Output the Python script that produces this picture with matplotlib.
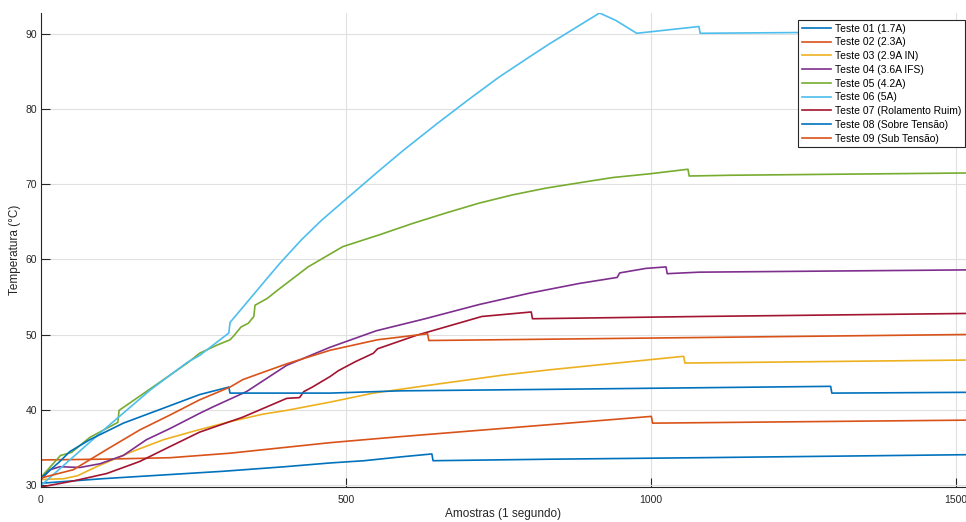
import matplotlib
matplotlib.use('Agg')
import matplotlib.pyplot as plt

plt.rcParams['font.family'] = ['Liberation Sans', 'DejaVu Sans']

# dados (amostra, temperatura)
t01_x = [0, 100, 200, 300, 400, 474, 530, 589, 641, 643, 834, 1080, 1516]
t01_y = [30.2, 30.8, 31.3, 31.8, 32.4, 32.9, 33.2, 33.7, 34.1, 33.2, 33.4, 33.6, 34.0]

t02_x = [0, 100, 212, 310, 474, 531, 589, 834, 1001, 1003, 1516]
t02_y = [33.3, 33.4, 33.6, 34.2, 35.6, 36.0, 36.4, 38.0, 39.1, 38.2, 38.6]

t03_x = [0, 37, 60, 91, 146, 201, 258, 310, 364, 403, 474, 545, 650, 758, 834, 1054, 1056, 1516]
t03_y = [30.7, 30.8, 31.2, 32.4, 34.3, 36.0, 37.3, 38.4, 39.4, 39.9, 41.0, 42.2, 43.4, 44.6, 45.3, 47.1, 46.2, 46.6]

t04_x = [0, 15, 31, 64, 97, 135, 173, 212, 260, 283, 337, 403, 474, 550, 630, 719, 801, 883,
         945, 949, 992, 1025, 1027, 1080, 1516]
t04_y = [30.7, 32.0, 32.4, 32.3, 32.8, 33.9, 36.0, 37.5, 39.5, 40.4, 42.4, 45.9, 48.3, 50.5, 52.1, 54.0, 55.5, 56.8,
         57.6, 58.2, 58.8, 59.0, 58.1, 58.3, 58.6]

t05_x = [0, 32, 50, 80, 126, 128, 162, 201, 240, 260, 289, 310, 317, 328, 340, 349, 351, 371, 388,
         438, 495, 556, 610, 665, 719, 774, 829, 883, 938, 999, 1061, 1063, 1130, 1516]
t05_y = [31.0, 33.9, 34.3, 36.3, 38.3, 39.9, 41.8, 44.0, 46.2, 47.5, 48.6, 49.3, 49.9, 51.0, 51.5, 52.4, 53.9, 54.8, 55.9,
         59.0, 61.7, 63.3, 64.8, 66.2, 67.5, 68.6, 69.5, 70.2, 70.9, 71.4, 72.0, 71.1, 71.2, 71.5]

t06_x = [0, 100, 179, 240, 260, 308, 310, 369, 392, 427, 460, 500, 550, 594, 650, 700, 750, 800, 834,
         870, 900, 916, 943, 977, 1079, 1081, 1244, 1516]
t06_y = [29.9, 37.1, 42.6, 46.3, 47.2, 50.2, 51.6, 57.3, 59.5, 62.6, 65.2, 68.0, 71.5, 74.5, 78.1, 81.2, 84.2,
         86.9, 88.7, 90.5, 92.0, 92.8, 91.8, 90.1, 91.0, 90.1, 90.2, 90.4]

t07_x = [0, 53, 108, 162, 212, 260, 331, 403, 424, 431, 445, 474, 488, 516, 545, 552, 616, 723, 804, 806,
         1080, 1516]
t07_y = [29.7, 30.5, 31.5, 33.1, 35.1, 37.0, 39.0, 41.5, 41.6, 42.4, 43.0, 44.4, 45.2, 46.4, 47.5, 48.1, 49.9, 52.4,
         53.0, 52.1, 52.4, 52.8]

t08_x = [0, 31, 47, 80, 135, 201, 260, 308, 310, 474, 589, 834, 1295, 1297, 1516]
t08_y = [30.9, 33.1, 34.4, 36.0, 38.2, 40.2, 42.0, 43.0, 42.2, 42.2, 42.5, 42.7, 43.1, 42.2, 42.3]

t09_x = [0, 53, 108, 162, 212, 260, 310, 331, 403, 474, 552, 634, 636, 1080, 1516]
t09_y = [30.9, 32.0, 34.7, 37.3, 39.3, 41.3, 43.0, 44.0, 46.1, 47.9, 49.3, 50.1, 49.2, 49.6, 50.0]

labels = ['Teste 01 (1.7A)', 'Teste 02 (2.3A)', 'Teste 03 (2.9A IN)', 'Teste 04 (3.6A IFS)',
          'Teste 05 (4.2A)', 'Teste 06 (5A)', 'Teste 07 (Rolamento Ruim)',
          'Teste 08 (Sobre Tensão)', 'Teste 09 (Sub Tensão)']
cores = ['#0072BD', '#D95319', '#EDB120', '#7E2F8E', '#77AC30', '#4DBEEE', '#A2142F',
         '#0072BD', '#D95319']
series = [(t01_x, t01_y), (t02_x, t02_y), (t03_x, t03_y), (t04_x, t04_y), (t05_x, t05_y),
          (t06_x, t06_y), (t07_x, t07_y), (t08_x, t08_y), (t09_x, t09_y)]

fig = plt.figure(figsize=(9.66, 5.22), dpi=100)
ax = fig.add_axes([41 / 966, 35 / 522, 925 / 966, 474 / 522])

for (x, y), c, lab in zip(series, cores, labels):
    ax.plot(x, y, color=c, lw=1.2, label=lab)

ax.set_xlim(0, 1517)
ax.set_ylim(29.7, 92.8)
ax.set_xticks([0, 500, 1000, 1500])
ax.set_yticks([30, 40, 50, 60, 70, 80, 90])
ax.grid(True, color='#e0e0e0', lw=0.8)
ax.set_axisbelow(True)
for s in ['top', 'right']:
    ax.spines[s].set_visible(False)
for s in ['left', 'bottom']:
    ax.spines[s].set_color('#262626')
    ax.spines[s].set_linewidth(0.8)
ax.tick_params(direction='in', length=6.5, width=0.8, colors='#262626', labelsize=7.5)
ax.tick_params(axis='y', pad=3)
ax.tick_params(axis='x', pad=6)

ax.set_xlabel('Amostras (1 segundo)', fontsize=8.5, color='#262626', labelpad=2)
ax.set_ylabel('Temperatura (°C)', fontsize=8.5, color='#262626', labelpad=3)

leg = ax.legend(loc='upper right', bbox_to_anchor=(965 / 966, 1 - 20 / 522),
                bbox_transform=fig.transFigure, borderaxespad=0, fontsize=7.5,
                fancybox=False, framealpha=1, edgecolor='#262626', handlelength=2.8,
                handletextpad=0.4, labelspacing=0.36, borderpad=0.35)
leg.get_frame().set_linewidth(0.8)

fig.savefig('out.png', dpi=100)
